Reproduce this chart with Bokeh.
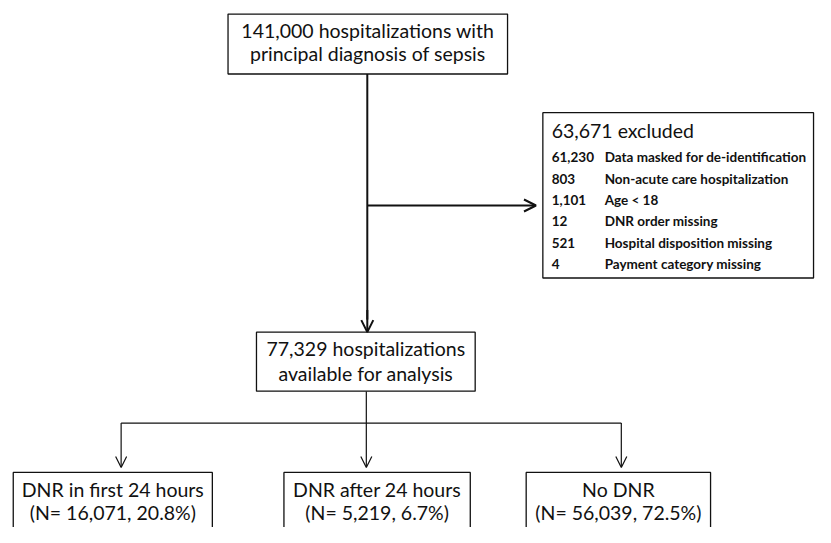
from bokeh.plotting import figure
from bokeh.models import Range1d, Arrow, OpenHead
from bokeh.embed import file_html
from bokeh.resources import INLINE
from bokeh.core.properties import value

# ---- content ----
top_text = ["141,000 hospitalizations with", "principal diagnosis of sepsis"]
excl_title = "63,671 excluded"
excl_counts = ["61,230", "803", "1,101", "12", "521", "4"]
excl_reasons = ["Data masked for de-identification", "Non-acute care hospitalization",
                "Age < 18", "DNR order missing", "Hospital disposition missing",
                "Payment category missing"]
mid_text = ["77,329 hospitalizations", "available for analysis"]
group_names = ["DNR in first 24 hours", "DNR after 24 hours", "No DNR"]
group_n = ["16,071", "5,219", "56,039"]
group_pct = ["20.8%", "6.7%", "72.5%"]

FONT = value("Lato")
INK = "#111111"

p = figure(width=815, height=527, x_range=Range1d(0, 831), y_range=Range1d(545, 0),
           output_backend="svg", toolbar_location=None, min_border=0)
p.axis.visible = False
p.grid.visible = False
p.outline_line_color = None
p.background_fill_color = "white"

def box(l, r, t, b, lw=1.3):
    p.quad(left=[l], right=[r], top=[t], bottom=[b], fill_color="white",
           line_color=INK, line_width=lw)

def arrow(x0, y0, x1, y1, lw=1.0, size=11):
    p.add_layout(Arrow(end=OpenHead(size=size, line_width=lw, line_color=INK),
                       x_start=x0, y_start=y0, x_end=x1, y_end=y1,
                       line_width=lw, line_color=INK))

def label(x, y, t, size="19.5px", align="center", style="normal"):
    p.text(x=[x], y=[y], text=[t], text_align=align, text_baseline="middle",
           text_font=FONT, text_font_size=size, text_color=INK, text_font_style=style)

# connectors
p.line([374, 374], [76, 330], line_color=INK, line_width=2)
arrow(374, 320, 374, 343, lw=2, size=12)
arrow(374, 212, 546, 212, lw=2, size=12)
p.line([373, 373], [404, 437], line_color=INK, line_width=1.2)
p.line([123, 633], [437, 437], line_color=INK, line_width=1.2)
for xc in [123, 373, 633]:
    arrow(xc, 437, xc, 483, lw=1.2, size=11)

# top box
box(232, 517, 14, 76)
label(374.5, 31, top_text[0])
label(374.5, 55, top_text[1])

# exclusion box
box(553, 829, 116, 287)
label(562, 134.5, excl_title, align="left")
ys = [161.5, 184.5, 206, 228, 250.5, 272.5]
for c, r, yy in zip(excl_counts, excl_reasons, ys):
    label(562, yy, c, size="13.5px", align="left", style="bold")
    label(616, yy, r, size="13.5px", align="left", style="bold")

# middle box
box(261, 484, 343, 404)
label(372.5, 360, mid_text[0])
label(372.5, 386, mid_text[1])

# bottom boxes
lefts = [13, 289, 536]
rights = [216, 479, 724]
for l, r, nm, n, pc in zip(lefts, rights, group_names, group_n, group_pct):
    box(l, r, 488, 600)
    cx = (l + r) / 2
    label(cx, 506, nm)
    label(cx, 529, f"(N= {n}, {pc})")

open("out.html", "w").write(file_html(p, INLINE))
